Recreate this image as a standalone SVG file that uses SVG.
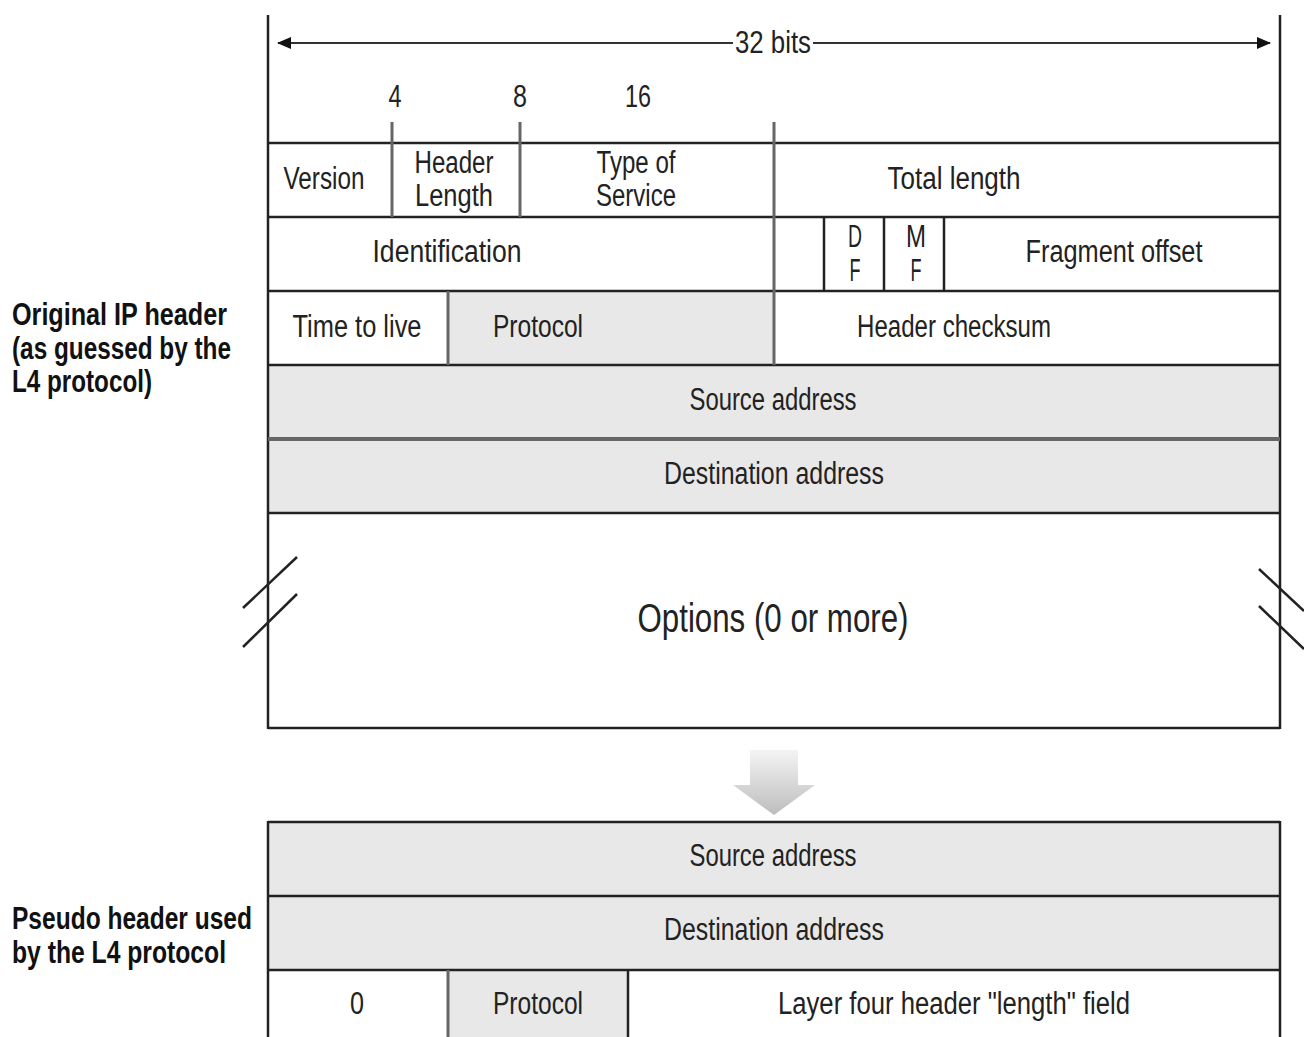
<svg xmlns="http://www.w3.org/2000/svg" width="1304" height="1037" viewBox="0 0 1304 1037">
<defs>
<style>
.t{font-family:"Liberation Sans",Arial,sans-serif;font-size:31px;fill:#222;text-anchor:middle}
.b{font-family:"Liberation Sans",Arial,sans-serif;font-size:31px;font-weight:bold;fill:#111}
.ln{stroke:#222;stroke-width:2.5;fill:none}
.gl{stroke:#666;stroke-width:3;fill:none}
.g{fill:#e8e8e8}
</style>
<marker id="ah" viewBox="0 0 14 12" refX="13" refY="6" markerWidth="14" markerHeight="12" markerUnits="userSpaceOnUse" orient="auto-start-reverse">
<path d="M0,0 L14,6 L0,12 z" fill="#111"/>
</marker>
<linearGradient id="ag" x1="0" y1="0" x2="0" y2="1">
<stop offset="0" stop-color="#f4f4f4"/>
<stop offset="1" stop-color="#bdbdbd"/>
</linearGradient>
</defs>
<rect width="1304" height="1037" fill="#fff"/>

<g id="fills">
<rect class="g" x="448" y="291" width="326" height="74"/>
<rect class="g" x="268" y="365" width="1012" height="148"/>
<rect class="g" x="268" y="822" width="1012" height="148"/>
<rect class="g" x="448" y="970" width="180" height="67"/>
</g>

<g id="connectors">
<line x1="278" y1="43" x2="733" y2="43" stroke="#333" stroke-width="2" marker-start="url(#ah)"/>
<line x1="813" y1="43" x2="1270" y2="43" stroke="#333" stroke-width="2" marker-end="url(#ah)"/>
</g>

<g id="ip-header-grid">
<line class="ln" x1="268" y1="15" x2="268" y2="729"/>
<line class="ln" x1="1280" y1="15" x2="1280" y2="729"/>
<line class="ln" x1="268" y1="143" x2="1280" y2="143"/>
<line class="ln" x1="268" y1="217" x2="1280" y2="217"/>
<line class="ln" x1="268" y1="291" x2="1280" y2="291"/>
<line class="ln" x1="268" y1="365" x2="1280" y2="365"/>
<line class="gl" x1="268" y1="439" x2="1280" y2="439" style="stroke-width:4"/>
<line class="ln" x1="268" y1="513" x2="1280" y2="513"/>
<line class="ln" x1="268" y1="728" x2="1280" y2="728"/>
<line class="gl" x1="392" y1="122" x2="392" y2="217"/>
<line class="gl" x1="520" y1="122" x2="520" y2="217"/>
<line class="gl" x1="774" y1="122" x2="774" y2="365"/>
<line class="ln" x1="824" y1="217" x2="824" y2="291"/>
<line class="ln" x1="884" y1="217" x2="884" y2="291"/>
<line class="ln" x1="944" y1="217" x2="944" y2="291"/>
<line class="gl" x1="448" y1="291" x2="448" y2="365"/>
<line class="ln" x1="243" y1="608" x2="297" y2="557"/>
<line class="ln" x1="243" y1="647" x2="297" y2="594"/>
<line class="ln" x1="1259" y1="569" x2="1304" y2="611"/>
<line class="ln" x1="1259" y1="606" x2="1304" y2="649"/>
</g>

<g id="bits-labels">
<text class="t" x="773" y="53" textLength="76" lengthAdjust="spacingAndGlyphs">32 bits</text>
<text class="t" x="395" y="107" textLength="13" lengthAdjust="spacingAndGlyphs">4</text>
<text class="t" x="520" y="107" textLength="14" lengthAdjust="spacingAndGlyphs">8</text>
<text class="t" x="638" y="107" textLength="26" lengthAdjust="spacingAndGlyphs">16</text>
</g>

<g id="row1">
<text class="t" x="324" y="189" textLength="81" lengthAdjust="spacingAndGlyphs">Version</text>
<text class="t" x="454" y="173" textLength="79" lengthAdjust="spacingAndGlyphs">Header</text>
<text class="t" x="454" y="206" textLength="78" lengthAdjust="spacingAndGlyphs">Length</text>
<text class="t" x="636" y="173" textLength="79" lengthAdjust="spacingAndGlyphs">Type of</text>
<text class="t" x="636" y="206" textLength="80" lengthAdjust="spacingAndGlyphs">Service</text>
<text class="t" x="954" y="189" textLength="133" lengthAdjust="spacingAndGlyphs">Total length</text>
</g>

<g id="row2">
<text class="t" x="447" y="262" textLength="149" lengthAdjust="spacingAndGlyphs">Identification</text>
<text class="t" x="855" y="247" textLength="14" lengthAdjust="spacingAndGlyphs">D</text>
<text class="t" x="855" y="281" textLength="11" lengthAdjust="spacingAndGlyphs">F</text>
<text class="t" x="916" y="247" textLength="20" lengthAdjust="spacingAndGlyphs">M</text>
<text class="t" x="916" y="281" textLength="11" lengthAdjust="spacingAndGlyphs">F</text>
<text class="t" x="1114" y="262" textLength="177" lengthAdjust="spacingAndGlyphs">Fragment offset</text>
</g>

<g id="row3">
<text class="t" x="357" y="337" textLength="129" lengthAdjust="spacingAndGlyphs">Time to live</text>
<text class="t" x="538" y="337" textLength="90" lengthAdjust="spacingAndGlyphs">Protocol</text>
<text class="t" x="954" y="337" textLength="194" lengthAdjust="spacingAndGlyphs">Header checksum</text>
</g>

<g id="row-src">
<text class="t" x="773" y="410" textLength="167" lengthAdjust="spacingAndGlyphs">Source address</text>
</g>
<g id="row-dst">
<text class="t" x="774" y="484" textLength="220" lengthAdjust="spacingAndGlyphs">Destination address</text>
</g>
<g id="options">
<text class="t" x="773" y="632" style="font-size:40px" textLength="271" lengthAdjust="spacingAndGlyphs">Options (0 or more)</text>
</g>

<g id="label-original">
<text class="b" x="12" y="325" textLength="215" lengthAdjust="spacingAndGlyphs">Original IP header</text>
<text class="b" x="12" y="359" textLength="219" lengthAdjust="spacingAndGlyphs">(as guessed by the</text>
<text class="b" x="12" y="392" textLength="140" lengthAdjust="spacingAndGlyphs">L4 protocol)</text>
</g>

<g id="down-arrow">
<path d="M750,750 L798,750 L798,785 L815,785 L774,815 L733,785 L750,785 Z" fill="url(#ag)"/>
</g>

<g id="pseudo-grid">
<line class="ln" x1="268" y1="822" x2="1280" y2="822"/>
<line class="ln" x1="268" y1="896" x2="1280" y2="896"/>
<line class="ln" x1="268" y1="970" x2="1280" y2="970"/>
<line class="ln" x1="268" y1="821" x2="268" y2="1037"/>
<line class="ln" x1="1280" y1="821" x2="1280" y2="1037"/>
<line class="gl" x1="448" y1="970" x2="448" y2="1037"/>
<line class="ln" x1="628" y1="970" x2="628" y2="1037"/>
</g>

<g id="pseudo-src">
<text class="t" x="773" y="866" textLength="167" lengthAdjust="spacingAndGlyphs">Source address</text>
</g>
<g id="pseudo-dst">
<text class="t" x="774" y="940" textLength="220" lengthAdjust="spacingAndGlyphs">Destination address</text>
</g>
<g id="pseudo-row3">
<text class="t" x="357" y="1014" textLength="14" lengthAdjust="spacingAndGlyphs">0</text>
<text class="t" x="538" y="1014" textLength="90" lengthAdjust="spacingAndGlyphs">Protocol</text>
<text class="t" x="954" y="1014" textLength="352" lengthAdjust="spacingAndGlyphs">Layer four header "length" field</text>
</g>

<g id="label-pseudo">
<text class="b" x="12" y="929" textLength="240" lengthAdjust="spacingAndGlyphs">Pseudo header used</text>
<text class="b" x="12" y="963" textLength="214" lengthAdjust="spacingAndGlyphs">by the L4 protocol</text>
</g>
</svg>
